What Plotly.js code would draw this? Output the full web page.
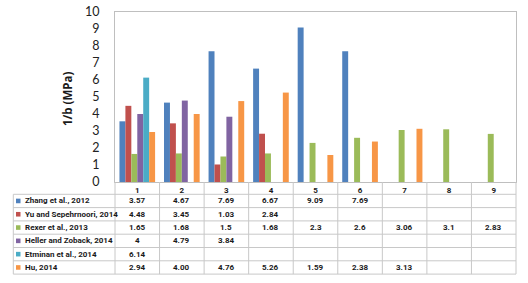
<!DOCTYPE html>
<html>
<head>
<meta charset="utf-8">
<script src="https://cdn.plot.ly/plotly-3.0.1.min.js"></script>
<style>html,body{margin:0;padding:0;background:#fff;}#chart{width:528px;height:283px;}</style>
</head>
<body>
<div id="chart"></div>
<script>
// ---- data ----
const categories = ['1','2','3','4','5','6','7','8','9'];
const seriesNames = ['Zhang et al., 2012','Yu and Sepehrnoori, 2014','Rexer et al., 2013','Heller and Zoback, 2014','Etminan et al., 2014','Hu, 2014'];
const zhang   = [3.57, 4.67, 7.69, 6.67, 9.09, 7.69, null, null, null];
const yu      = [4.48, 3.45, 1.03, 2.84, null, null, null, null, null];
const rexer   = [1.65, 1.68, 1.5, 1.68, 2.3, 2.6, 3.06, 3.1, 2.83];
const heller  = [4, 4.79, 3.84, null, null, null, null, null, null];
const etminan = [6.14, null, null, null, null, null, null, null, null];
const hu      = [2.94, 4.00, 4.76, 5.26, 1.59, 2.38, 3.13, null, null];
const seriesDecimals = [null, null, null, null, null, 2];
const seriesColors = ['#4F81BD','#C0504D','#9BBB59','#8064A2','#4BACC6','#F79646'];
const yTitle = '1/b (MPa)';

const allSeries = [zhang, yu, rexer, heller, etminan, hu];

// ---- geometry (pixels) ----
const W = 528, H = 283;
const mL = 115, mR = 12, mT = 12, mB = 101;
const PW = W - mL - mR, PH = H - mT - mB;
const xp = px => (px - mL) / PW;
const yp = py => (H - mB - py) / PH;
const axisY = H - mB;           // 182
const headerBottom = 194.3;
const rowH = 13.3;
const tableLeft = 13.3;
const tableRight = mL + PW;
const colW = PW / categories.length;

const FONT = 'Lato, "Open Sans", sans-serif';
const BOLDFONT = 'Roboto, "Open Sans", sans-serif';
const gridCol = '#C8C8C8';

const traces = allSeries.map((vals, i) => ({
  type: 'bar',
  name: seriesNames[i],
  x: categories,
  y: vals,
  marker: {color: seriesColors[i], line: {width: 0}},
  hoverinfo: 'skip'
}));

const shapes = [];
const annotations = [];
function line(x0, y0, x1, y1) {
  shapes.push({type: 'line', xref: 'paper', yref: 'paper',
    x0: xp(x0), y0: yp(y0), x1: xp(x1), y1: yp(y1),
    line: {color: gridCol, width: 1}});
}
const tableBottom = headerBottom + rowH * seriesNames.length;
for (let r = 0; r <= seriesNames.length; r++) {
  const y = headerBottom + r * rowH;
  line(tableLeft, y, tableRight, y);
}
line(tableLeft, headerBottom, tableLeft, tableBottom);
for (let c = 0; c <= categories.length; c++) {
  const x = mL + c * colW;
  line(x, axisY, x, tableBottom);
}
const cellFont = {family: BOLDFONT, size: 8, color: '#1a1a1a', weight: 700};
seriesNames.forEach((name, r) => {
  const cy = headerBottom + r * rowH + rowH / 2;
  shapes.push({type: 'rect', xref: 'paper', yref: 'paper',
    x0: xp(16), x1: xp(20.5), y0: yp(cy - 2.3), y1: yp(cy + 2.3),
    fillcolor: seriesColors[r], line: {width: 0}});
  annotations.push({xref: 'paper', yref: 'paper', x: xp(22.5), y: yp(cy),
    xanchor: 'left', yanchor: 'middle', showarrow: false, text: name,
    font: cellFont});
  allSeries[r].forEach((v, c) => {
    if (v === null) return;
    const txt = seriesDecimals[r] !== null ? v.toFixed(seriesDecimals[r]) : String(v);
    annotations.push({xref: 'paper', yref: 'paper', x: xp(mL + (c + 0.5) * colW), y: yp(cy),
      xanchor: 'center', yanchor: 'middle', showarrow: false, text: txt,
      font: cellFont});
  });
});
// y-axis title placed precisely
annotations.push({xref: 'paper', yref: 'paper', x: xp(67), y: yp(99),
  xanchor: 'center', yanchor: 'middle', showarrow: false, textangle: -90,
  text: yTitle, font: {family: '"Open Sans", sans-serif', size: 11.5, color: '#1a1a1a', weight: 700}});

const layout = {
  width: W, height: H,
  margin: {l: mL, r: mR, t: mT, b: mB, pad: 0},
  paper_bgcolor: '#fff', plot_bgcolor: '#fff',
  barmode: 'group', bargap: 0.2, bargroupgap: 0,
  showlegend: false,
  font: {family: FONT, color: '#1a1a1a'},
  xaxis: {
    type: 'category', categoryarray: categories,
    showgrid: false, zeroline: false,
    showline: true, linecolor: '#BFBFBF', linewidth: 1, mirror: true,
    ticks: '', ticklabelstandoff: 0,
    tickfont: cellFont,
    fixedrange: true
  },
  yaxis: {
    range: [0, 10], dtick: 1, tick0: 0,
    showgrid: false, zeroline: false,
    showline: true, linecolor: '#BFBFBF', linewidth: 1, mirror: true,
    ticks: '', ticklabelstandoff: 12,
    tickfont: {family: FONT, size: 12.5, color: '#222'},
    fixedrange: true
  },
  shapes: shapes,
  annotations: annotations
};

Plotly.newPlot('chart', traces, layout, {staticPlot: true, displayModeBar: false});
</script>
</body>
</html>
